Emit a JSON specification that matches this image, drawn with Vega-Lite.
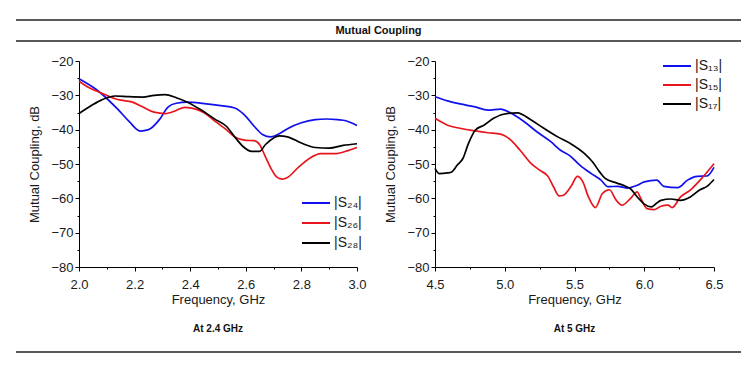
{
  "$schema": "https://vega.github.io/schema/vega-lite/v6.json",
  "padding": {"left": 15, "top": 19, "right": 14, "bottom": 5},
  "config": {
    "view": {"stroke": null},
    "font": "Liberation Sans",
    "axis": {"labelFont": "Liberation Sans", "titleFont": "Liberation Sans", "labelFontSize": 13, "titleFontSize": 13, "titleFontWeight": "normal", "labelColor": "#1a1a1a", "titleColor": "#1a1a1a", "domainColor": "#000", "tickColor": "#000", "grid": false, "labelFlush": false, "labelOverlap": false},
    "legend": {"labelFont": "Liberation Sans", "labelFontSize": 14, "labelColor": "#1a1a1a", "symbolType": "M-1.4,0H1.4", "symbolSize": 400, "symbolStrokeWidth": 2, "labelOffset": 7, "rowPadding": 1.5, "padding": 0}
  },
  "spacing": 13,
  "vconcat": [
    {
      "width": 725, "height": 21,
      "data": {"values": [{"t": "Mutual Coupling"}]},
      "layer": [
        {"mark": {"type": "rule", "color": "#222", "strokeWidth": 1.5},
         "encoding": {"x": {"datum": 0, "scale": {"domain": [0, 1], "range": [-63, 662]}, "axis": null}, "x2": {"datum": 1}, "y": {"datum": 0, "scale": {"domain": [0, 1]}, "axis": null}}},
        {"mark": {"type": "rule", "color": "#222", "strokeWidth": 1.5},
         "encoding": {"x": {"datum": 0}, "x2": {"datum": 1}, "y": {"datum": 1}}},
        {"mark": {"type": "text", "font": "Liberation Sans", "fontWeight": "bold", "fontSize": 11, "color": "#111"},
         "encoding": {"text": {"field": "t"}, "x": {"datum": 0.5}, "y": {"datum": 0.5}}}
      ]
    },
    {
      "spacing": 78,
      "bounds": "flush",
      "hconcat": [
        {
          "width": 278, "height": 206,
          "title": {"text": "At 2.4 GHz", "orient": "bottom", "fontSize": 10, "fontWeight": "bold", "font": "Liberation Sans", "color": "#111", "offset": 18},
          "data": {"values": [
            {"s": "|S₂₄|", "f": 2.0, "v": -25.2}, {"s": "|S₂₄|", "f": 2.07, "v": -28.8}, {"s": "|S₂₄|", "f": 2.14, "v": -34.1}, {"s": "|S₂₄|", "f": 2.18, "v": -37.6}, {"s": "|S₂₄|", "f": 2.22, "v": -40.4}, {"s": "|S₂₄|", "f": 2.25, "v": -40.0}, {"s": "|S₂₄|", "f": 2.29, "v": -37.0}, {"s": "|S₂₄|", "f": 2.32, "v": -33.4}, {"s": "|S₂₄|", "f": 2.35, "v": -32.3}, {"s": "|S₂₄|", "f": 2.39, "v": -32.0}, {"s": "|S₂₄|", "f": 2.45, "v": -32.4}, {"s": "|S₂₄|", "f": 2.51, "v": -33.0}, {"s": "|S₂₄|", "f": 2.56, "v": -33.7}, {"s": "|S₂₄|", "f": 2.6, "v": -36.1}, {"s": "|S₂₄|", "f": 2.63, "v": -39.0}, {"s": "|S₂₄|", "f": 2.66, "v": -41.4}, {"s": "|S₂₄|", "f": 2.69, "v": -42.1}, {"s": "|S₂₄|", "f": 2.72, "v": -41.2}, {"s": "|S₂₄|", "f": 2.75, "v": -39.7}, {"s": "|S₂₄|", "f": 2.8, "v": -38.0}, {"s": "|S₂₄|", "f": 2.85, "v": -37.1}, {"s": "|S₂₄|", "f": 2.89, "v": -36.9}, {"s": "|S₂₄|", "f": 2.93, "v": -37.1}, {"s": "|S₂₄|", "f": 2.96, "v": -37.4}, {"s": "|S₂₄|", "f": 3.0, "v": -38.8},
            {"s": "|S₂₆|", "f": 2.0, "v": -25.9}, {"s": "|S₂₆|", "f": 2.03, "v": -27.5}, {"s": "|S₂₆|", "f": 2.08, "v": -29.3}, {"s": "|S₂₆|", "f": 2.13, "v": -31.0}, {"s": "|S₂₆|", "f": 2.15, "v": -31.4}, {"s": "|S₂₆|", "f": 2.19, "v": -31.9}, {"s": "|S₂₆|", "f": 2.23, "v": -33.4}, {"s": "|S₂₆|", "f": 2.27, "v": -34.9}, {"s": "|S₂₆|", "f": 2.31, "v": -35.3}, {"s": "|S₂₆|", "f": 2.35, "v": -34.4}, {"s": "|S₂₆|", "f": 2.38, "v": -33.5}, {"s": "|S₂₆|", "f": 2.42, "v": -34.0}, {"s": "|S₂₆|", "f": 2.45, "v": -35.1}, {"s": "|S₂₆|", "f": 2.49, "v": -37.6}, {"s": "|S₂₆|", "f": 2.53, "v": -40.0}, {"s": "|S₂₆|", "f": 2.56, "v": -42.1}, {"s": "|S₂₆|", "f": 2.6, "v": -43.1}, {"s": "|S₂₆|", "f": 2.63, "v": -43.2}, {"s": "|S₂₆|", "f": 2.65, "v": -44.4}, {"s": "|S₂₆|", "f": 2.67, "v": -47.8}, {"s": "|S₂₆|", "f": 2.69, "v": -51.2}, {"s": "|S₂₆|", "f": 2.71, "v": -53.7}, {"s": "|S₂₆|", "f": 2.73, "v": -54.4}, {"s": "|S₂₆|", "f": 2.75, "v": -53.9}, {"s": "|S₂₆|", "f": 2.79, "v": -50.9}, {"s": "|S₂₆|", "f": 2.83, "v": -48.3}, {"s": "|S₂₆|", "f": 2.87, "v": -47.0}, {"s": "|S₂₆|", "f": 2.92, "v": -47.0}, {"s": "|S₂₆|", "f": 2.96, "v": -46.3}, {"s": "|S₂₆|", "f": 3.0, "v": -45.2},
            {"s": "|S₂₈|", "f": 2.0, "v": -35.3}, {"s": "|S₂₈|", "f": 2.03, "v": -33.7}, {"s": "|S₂₈|", "f": 2.08, "v": -31.4}, {"s": "|S₂₈|", "f": 2.13, "v": -30.2}, {"s": "|S₂₈|", "f": 2.18, "v": -30.4}, {"s": "|S₂₈|", "f": 2.23, "v": -30.5}, {"s": "|S₂₈|", "f": 2.27, "v": -30.0}, {"s": "|S₂₈|", "f": 2.31, "v": -29.8}, {"s": "|S₂₈|", "f": 2.35, "v": -30.7}, {"s": "|S₂₈|", "f": 2.39, "v": -32.0}, {"s": "|S₂₈|", "f": 2.44, "v": -34.3}, {"s": "|S₂₈|", "f": 2.49, "v": -37.0}, {"s": "|S₂₈|", "f": 2.53, "v": -39.0}, {"s": "|S₂₈|", "f": 2.56, "v": -42.1}, {"s": "|S₂₈|", "f": 2.59, "v": -44.9}, {"s": "|S₂₈|", "f": 2.62, "v": -46.3}, {"s": "|S₂₈|", "f": 2.65, "v": -46.3}, {"s": "|S₂₈|", "f": 2.67, "v": -44.4}, {"s": "|S₂₈|", "f": 2.7, "v": -42.4}, {"s": "|S₂₈|", "f": 2.72, "v": -41.8}, {"s": "|S₂₈|", "f": 2.75, "v": -42.1}, {"s": "|S₂₈|", "f": 2.8, "v": -43.9}, {"s": "|S₂₈|", "f": 2.85, "v": -45.2}, {"s": "|S₂₈|", "f": 2.9, "v": -45.4}, {"s": "|S₂₈|", "f": 2.95, "v": -44.6}, {"s": "|S₂₈|", "f": 3.0, "v": -44.1}
          ]},
          "layer": [
            {
              "mark": {"type": "line", "interpolate": "monotone", "strokeWidth": 1.7},
              "encoding": {
                "x": {"field": "f", "type": "quantitative", "scale": {"domain": [2, 3], "nice": false}, "axis": {"values": [2, 2.2, 2.4, 2.6, 2.8, 3.0], "format": ".1f", "title": "Frequency, GHz", "tickSize": 4, "labelPadding": 7, "titlePadding": 2}},
                "y": {"field": "v", "type": "quantitative", "scale": {"domain": [-80, -20], "nice": false}, "axis": {"values": [-80, -70, -60, -50, -40, -30, -20], "title": "Mutual Coupling, dB", "tickSize": 4, "labelPadding": 2, "titlePadding": 9}},
                "color": {"field": "s", "type": "nominal", "scale": {"domain": ["|S₂₄|", "|S₂₆|", "|S₂₈|"], "range": ["#1010ee", "#e8161c", "#000000"]}, "legend": {"title": null, "orient": "none", "legendX": 226, "legendY": 131, "rowPadding": 2}}
              }
            },
            {
              "mark": {"type": "line", "opacity": 0},
              "encoding": {
                "x": {"field": "f", "type": "quantitative", "axis": {"orient": "bottom", "values": [2.1, 2.3, 2.5, 2.7, 2.9], "labels": false, "domain": false, "tickSize": 2, "title": null}},
                "y": {"field": "v", "type": "quantitative", "axis": {"orient": "left", "values": [-75, -65, -55, -45, -35, -25], "labels": false, "domain": false, "tickSize": 2, "title": null}}
              }
            }
          ],
          "resolve": {"axis": {"x": "independent", "y": "independent"}}
        },
        {
          "width": 279, "height": 206,
          "title": {"text": "At 5 GHz", "orient": "bottom", "fontSize": 10, "fontWeight": "bold", "font": "Liberation Sans", "color": "#111", "offset": 18},
          "data": {"values": [
            {"s": "|S₁₃|", "f": 4.5, "v": -30.4}, {"s": "|S₁₃|", "f": 4.59, "v": -31.6}, {"s": "|S₁₃|", "f": 4.68, "v": -32.5}, {"s": "|S₁₃|", "f": 4.78, "v": -33.3}, {"s": "|S₁₃|", "f": 4.88, "v": -34.3}, {"s": "|S₁₃|", "f": 4.97, "v": -34.0}, {"s": "|S₁₃|", "f": 5.04, "v": -35.1}, {"s": "|S₁₃|", "f": 5.14, "v": -37.7}, {"s": "|S₁₃|", "f": 5.23, "v": -40.6}, {"s": "|S₁₃|", "f": 5.33, "v": -43.5}, {"s": "|S₁₃|", "f": 5.4, "v": -46.0}, {"s": "|S₁₃|", "f": 5.47, "v": -47.7}, {"s": "|S₁₃|", "f": 5.54, "v": -50.4}, {"s": "|S₁₃|", "f": 5.62, "v": -52.8}, {"s": "|S₁₃|", "f": 5.69, "v": -54.7}, {"s": "|S₁₃|", "f": 5.74, "v": -56.6}, {"s": "|S₁₃|", "f": 5.81, "v": -56.5}, {"s": "|S₁₃|", "f": 5.88, "v": -57.0}, {"s": "|S₁₃|", "f": 5.95, "v": -56.2}, {"s": "|S₁₃|", "f": 6.0, "v": -55.2}, {"s": "|S₁₃|", "f": 6.09, "v": -54.7}, {"s": "|S₁₃|", "f": 6.14, "v": -56.5}, {"s": "|S₁₃|", "f": 6.24, "v": -56.9}, {"s": "|S₁₃|", "f": 6.31, "v": -54.7}, {"s": "|S₁₃|", "f": 6.38, "v": -53.6}, {"s": "|S₁₃|", "f": 6.45, "v": -53.5}, {"s": "|S₁₃|", "f": 6.5, "v": -51.0},
            {"s": "|S₁₅|", "f": 4.5, "v": -36.7}, {"s": "|S₁₅|", "f": 4.59, "v": -38.7}, {"s": "|S₁₅|", "f": 4.68, "v": -39.6}, {"s": "|S₁₅|", "f": 4.78, "v": -40.3}, {"s": "|S₁₅|", "f": 4.88, "v": -40.9}, {"s": "|S₁₅|", "f": 4.97, "v": -41.3}, {"s": "|S₁₅|", "f": 5.04, "v": -42.9}, {"s": "|S₁₅|", "f": 5.11, "v": -46.0}, {"s": "|S₁₅|", "f": 5.19, "v": -49.9}, {"s": "|S₁₅|", "f": 5.25, "v": -51.8}, {"s": "|S₁₅|", "f": 5.31, "v": -53.6}, {"s": "|S₁₅|", "f": 5.35, "v": -56.7}, {"s": "|S₁₅|", "f": 5.39, "v": -59.3}, {"s": "|S₁₅|", "f": 5.42, "v": -59.1}, {"s": "|S₁₅|", "f": 5.48, "v": -56.2}, {"s": "|S₁₅|", "f": 5.52, "v": -53.6}, {"s": "|S₁₅|", "f": 5.56, "v": -55.2}, {"s": "|S₁₅|", "f": 5.6, "v": -59.6}, {"s": "|S₁₅|", "f": 5.65, "v": -62.7}, {"s": "|S₁₅|", "f": 5.7, "v": -58.6}, {"s": "|S₁₅|", "f": 5.75, "v": -57.5}, {"s": "|S₁₅|", "f": 5.8, "v": -60.6}, {"s": "|S₁₅|", "f": 5.84, "v": -62.0}, {"s": "|S₁₅|", "f": 5.9, "v": -60.1}, {"s": "|S₁₅|", "f": 5.95, "v": -58.1}, {"s": "|S₁₅|", "f": 5.97, "v": -59.6}, {"s": "|S₁₅|", "f": 6.02, "v": -63.0}, {"s": "|S₁₅|", "f": 6.07, "v": -63.3}, {"s": "|S₁₅|", "f": 6.12, "v": -62.3}, {"s": "|S₁₅|", "f": 6.17, "v": -62.0}, {"s": "|S₁₅|", "f": 6.2, "v": -62.7}, {"s": "|S₁₅|", "f": 6.26, "v": -59.6}, {"s": "|S₁₅|", "f": 6.33, "v": -57.6}, {"s": "|S₁₅|", "f": 6.4, "v": -54.7}, {"s": "|S₁₅|", "f": 6.5, "v": -49.9},
            {"s": "|S₁₇|", "f": 4.5, "v": -51.3}, {"s": "|S₁₇|", "f": 4.53, "v": -52.8}, {"s": "|S₁₇|", "f": 4.59, "v": -52.6}, {"s": "|S₁₇|", "f": 4.62, "v": -52.3}, {"s": "|S₁₇|", "f": 4.66, "v": -50.3}, {"s": "|S₁₇|", "f": 4.7, "v": -48.4}, {"s": "|S₁₇|", "f": 4.74, "v": -44.0}, {"s": "|S₁₇|", "f": 4.79, "v": -40.1}, {"s": "|S₁₇|", "f": 4.85, "v": -38.7}, {"s": "|S₁₇|", "f": 4.92, "v": -36.7}, {"s": "|S₁₇|", "f": 4.99, "v": -35.5}, {"s": "|S₁₇|", "f": 5.09, "v": -35.1}, {"s": "|S₁₇|", "f": 5.19, "v": -37.2}, {"s": "|S₁₇|", "f": 5.28, "v": -39.6}, {"s": "|S₁₇|", "f": 5.38, "v": -42.1}, {"s": "|S₁₇|", "f": 5.47, "v": -44.0}, {"s": "|S₁₇|", "f": 5.57, "v": -46.9}, {"s": "|S₁₇|", "f": 5.63, "v": -49.4}, {"s": "|S₁₇|", "f": 5.68, "v": -52.3}, {"s": "|S₁₇|", "f": 5.72, "v": -54.2}, {"s": "|S₁₇|", "f": 5.8, "v": -55.5}, {"s": "|S₁₇|", "f": 5.85, "v": -56.2}, {"s": "|S₁₇|", "f": 5.9, "v": -57.2}, {"s": "|S₁₇|", "f": 5.95, "v": -59.6}, {"s": "|S₁₇|", "f": 6.0, "v": -61.7}, {"s": "|S₁₇|", "f": 6.05, "v": -62.5}, {"s": "|S₁₇|", "f": 6.08, "v": -61.7}, {"s": "|S₁₇|", "f": 6.12, "v": -60.6}, {"s": "|S₁₇|", "f": 6.19, "v": -60.2}, {"s": "|S₁₇|", "f": 6.26, "v": -60.6}, {"s": "|S₁₇|", "f": 6.33, "v": -59.6}, {"s": "|S₁₇|", "f": 6.4, "v": -57.5}, {"s": "|S₁₇|", "f": 6.45, "v": -56.5}, {"s": "|S₁₇|", "f": 6.5, "v": -54.5}
          ]},
          "layer": [
            {
              "mark": {"type": "line", "interpolate": "monotone", "strokeWidth": 1.7},
              "encoding": {
                "x": {"field": "f", "type": "quantitative", "scale": {"domain": [4.5, 6.5], "nice": false}, "axis": {"values": [4.5, 5.0, 5.5, 6.0, 6.5], "format": ".1f", "title": "Frequency, GHz", "tickSize": 4, "labelPadding": 7, "titlePadding": 2}},
                "y": {"field": "v", "type": "quantitative", "scale": {"domain": [-80, -20], "nice": false}, "axis": {"values": [-80, -70, -60, -50, -40, -30, -20], "title": "Mutual Coupling, dB", "tickSize": 4, "labelPadding": 2, "titlePadding": 9}},
                "color": {"field": "s", "type": "nominal", "scale": {"domain": ["|S₁₃|", "|S₁₅|", "|S₁₇|"], "range": ["#1010ee", "#e8161c", "#000000"]}, "legend": {"title": null, "orient": "none", "legendX": 231, "legendY": -6, "rowPadding": 1}}
              }
            },
            {
              "mark": {"type": "line", "opacity": 0},
              "encoding": {
                "x": {"field": "f", "type": "quantitative", "axis": {"orient": "bottom", "values": [4.75, 5.25, 5.75, 6.25], "labels": false, "domain": false, "tickSize": 2, "title": null}},
                "y": {"field": "v", "type": "quantitative", "axis": {"orient": "left", "values": [-75, -65, -55, -45, -35, -25], "labels": false, "domain": false, "tickSize": 2, "title": null}}
              }
            }
          ],
          "resolve": {"axis": {"x": "independent", "y": "independent"}}
        }
      ],
      "resolve": {"scale": {"color": "independent"}}
    },
    {
      "width": 725, "height": 5,
      "data": {"values": [{"k": 1}]},
      "mark": {"type": "rule", "color": "#222", "strokeWidth": 1.5},
      "encoding": {"x": {"datum": 0, "scale": {"domain": [0, 1], "range": [-63, 662]}, "axis": null}, "x2": {"datum": 1}, "y": {"datum": 0, "scale": {"domain": [0, 1]}, "axis": null}}
    }
  ]
}
